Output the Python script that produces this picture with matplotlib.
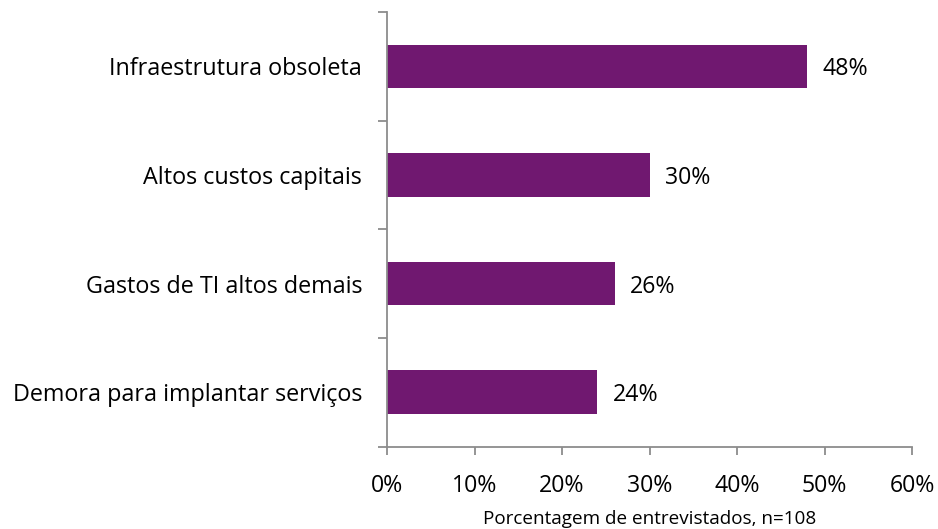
import matplotlib.pyplot as plt
import numpy as np

plt.rcParams["font.family"] = ["Open Sans", "DejaVu Sans"]

categories = ["Demora para implantar serviços", "Gastos de TI altos demais",
              "Altos custos capitais", "Infraestrutura obsoleta"]
values = [24, 26, 30, 48]
xticks = [0, 10, 20, 30, 40, 50, 60]
xticklabels = ["0%", "10%", "20%", "30%", "40%", "50%", "60%"]

fig = plt.figure(figsize=(9.38, 5.29), dpi=100)
ax = fig.add_axes([387 / 938, 1 - 446.5 / 529, (912 - 387) / 938, (446.5 - 12) / 529])

y = np.arange(len(categories))
ax.barh(y, values, height=0.4, color="#701870")
for yi, v in zip(y, values):
    ax.text(v + 1.8, yi, f"{v}%", va="center_baseline", ha="left", fontsize=16.7)

ax.set_xlim(0, 60)
ax.set_ylim(-0.5, len(categories) - 0.5)
ax.set_xticks(xticks)
ax.set_xticklabels(xticklabels, fontsize=16.7)
ax.set_yticks(y)
ax.set_yticklabels(categories, fontsize=16.8, va="center_baseline")
ax.set_yticks(np.arange(-0.5, len(categories)), minor=True)
ax.tick_params(axis="y", which="major", length=0, pad=18)
ax.tick_params(axis="y", which="minor", length=6.5, color="#8c8c8c", width=1.3)
ax.tick_params(axis="x", length=6, color="#8c8c8c", width=1.3, pad=14)

for s in ["top", "right"]:
    ax.spines[s].set_visible(False)
for s in ["left", "bottom"]:
    ax.spines[s].set_color("#8c8c8c")
    ax.spines[s].set_linewidth(1.3)

fig.text(649.5 / 938, 1 - 523.5 / 529, "Porcentagem de entrevistados, n=108",
         fontsize=13.6, ha="center", va="baseline")

fig.savefig("out.png", dpi=100)
